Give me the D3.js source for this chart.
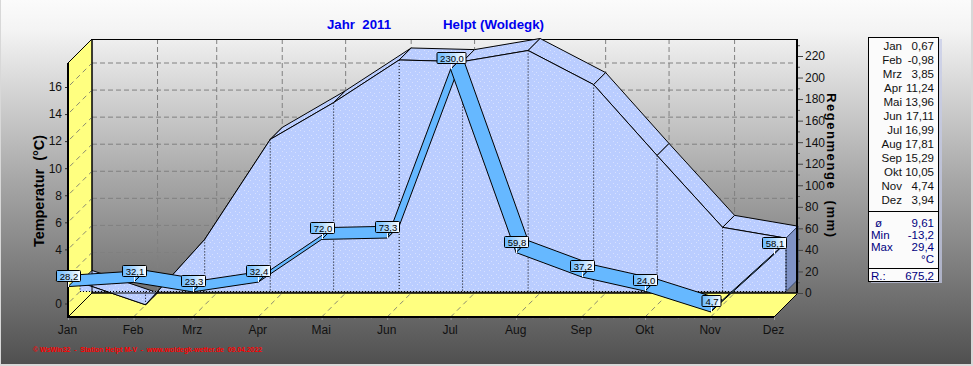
<!DOCTYPE html>
<html lang="de">
<head>
  <meta charset="UTF-8">
  <script src="https://d3js.org/d3.v7.min.js"></script>
  <title>Helpt 2011</title>
  <style>
    html, body { margin: 0; padding: 0; background: #d8d8d8; overflow: hidden; }
    svg { display: block; font-family: "Liberation Sans", Arial, sans-serif; }
    .axis path { display: none; }
    .axis text { font-family: "Liberation Sans", Arial, sans-serif; font-size: 12px; fill: #111; }
  </style>
</head>
<body>
  <script>
    const months = ["Jan", "Feb", "Mrz", "Apr", "Mai", "Jun", "Jul", "Aug", "Sep", "Okt", "Nov", "Dez"];
    const tempValues = [0.67, -0.98, 3.85, 11.24, 13.96, 17.11, 16.99, 17.81, 15.29, 10.05, 4.74, 3.94];
    const rainValues = [28.2, 32.1, 23.3, 32.4, 72.0, 73.3, 230.0, 59.8, 37.2, 24.0, 4.7, 58.1];
    const tempTicks = [0, 2, 4, 6, 8, 10, 12, 14, 16];
    const rainTicks = [0, 20, 40, 60, 80, 100, 120, 140, 160, 180, 200, 220];
    const summaryLabels = ["ø", "Min", "Max"];
    const summaryValues = ["9,61", "-13,2", "29,4"];
    const rainTotal = "675,2";

    const width = 973, height = 366;
    const depth = 24;       // full depth of the 3D box
    const midDepth = 12;    // rain band sits in front half, temperature in back half

    const dates = months.map((m, i) => new Date(Date.UTC(2011, i, 1)));
    const comma = v => v.toFixed(2).replace(".", ",");
    const comma1 = v => v.toFixed(1).replace(".", ",");

    const x = d3.scaleUtc().domain([dates[0], dates[11]]).range([68, 774]);
    const yTemp = d3.scaleLinear().domain([0, 16]).range([303.5, 87]);
    const yRain = d3.scaleLinear().domain([0, 220]).range([317, 80]);

    const leftX = x.range()[0], rightX = x.range()[1];
    const floorY = yRain(0), topY = 63;

    const svg = d3.select("body").append("svg").attr("width", width).attr("height", height);
    const defs = svg.append("defs");

    /* Gradients and pattern */
    const bg = defs.append("linearGradient").attr("id", "bg").attr("x1", 0).attr("y1", 0).attr("x2", 0).attr("y2", 1);
    [[0, "#fbfbfb"], [0.08, "#f4f4f4"], [0.5, "#a6a6a6"], [1, "#505050"]].forEach(s =>
      bg.append("stop").attr("offset", s[0]).attr("stop-color", s[1]));

    const labelFill = defs.append("linearGradient").attr("id", "labelFill");
    labelFill.append("stop").attr("offset", 0).attr("stop-color", "#66b8ff");
    labelFill.append("stop").attr("offset", 1).attr("stop-color", "#ffffff");

    const dots = defs.append("pattern").attr("id", "dots").attr("width", 9).attr("height", 7)
      .attr("patternUnits", "userSpaceOnUse");
    dots.append("rect").attr("width", 9).attr("height", 7).attr("fill", "#bacdff");
    [[1, 1], [5, 2], [3, 4], [7, 5]].forEach(p =>
      dots.append("rect").attr("x", p[0]).attr("y", p[1]).attr("width", 1).attr("height", 1).attr("fill", "#d6e0ff"));

    /* Background */
    svg.append("rect").attr("x", 1).attr("y", 0).attr("width", 970).attr("height", 364).attr("fill", "url(#bg)");

    /* Titles */
    const title = (txt, px, len) => svg.append("text").attr("x", px).attr("y", 29)
      .attr("textLength", len).attr("lengthAdjust", "spacingAndGlyphs")
      .style("white-space", "pre").attr("font-size", 13).attr("font-weight", "bold").attr("fill", "#0000ee").text(txt);
    title("Jahr  2011", 327, 64);
    title("Helpt (Woldegk)", 443, 101);

    /* Back wall grid */
    const grid = svg.append("g").attr("stroke", "#808080").attr("stroke-dasharray", "5,3").attr("fill", "none");
    tempTicks.filter(d => d > 0).forEach(d => {
      grid.append("line").attr("x1", leftX + depth).attr("x2", rightX + depth)
        .attr("y1", yTemp(d) - depth).attr("y2", yTemp(d) - depth);
    });
    dates.slice(1, 11).forEach(d => {
      grid.append("line").attr("x1", x(d) + depth).attr("x2", x(d) + depth)
        .attr("y1", topY - depth).attr("y2", floorY - depth);
    });

    /* Yellow left wall and floor */
    const poly = (g, pts) => g.append("path").attr("d", d3.line()(pts) + "Z");
    const walls = svg.append("g").attr("fill", "#ffff80").attr("stroke", "#000");
    poly(walls, [[leftX, topY], [leftX + depth, topY - depth], [leftX + depth, floorY - depth], [leftX, floorY]]);
    poly(walls, [[leftX, floorY], [rightX, floorY], [rightX + depth, floorY - depth], [leftX + depth, floorY - depth]]);

    const wallDash = svg.append("g").attr("stroke", "#8a8a70").attr("stroke-dasharray", "5,4");
    tempTicks.forEach(d => {
      wallDash.append("line").attr("x1", leftX + 2).attr("y1", yTemp(d) - 2)
        .attr("x2", leftX + depth).attr("y2", yTemp(d) - depth);
    });
    dates.slice(1, 11).forEach(d => {
      wallDash.append("line").attr("x1", x(d)).attr("y1", floorY)
        .attr("x2", x(d) + depth).attr("y2", floorY - depth);
    });

    /* Box frame */
    const boxFrame = svg.append("g").attr("stroke", "#000").attr("fill", "none");
    boxFrame.append("line").attr("x1", leftX + depth).attr("x2", rightX + depth).attr("y1", topY - depth + 0.5).attr("y2", topY - depth + 0.5);
    boxFrame.append("line").attr("x1", leftX).attr("x2", leftX + depth).attr("y1", floorY).attr("y2", floorY - depth);

    /* Axes */
    const leftAxis = svg.append("g").attr("class", "axis").attr("transform", `translate(${leftX},0)`)
      .call(d3.axisLeft(yTemp).tickValues(tempTicks).tickSize(3).tickPadding(3).tickFormat(d3.format("d")));
    leftAxis.selectAll("line").attr("stroke", "#333");

    const rainAxis = svg.append("g").attr("class", "axis").attr("transform", `translate(${rightX + depth - 1},${-depth})`)
      .call(d3.axisRight(yRain).tickValues(rainTicks).tickSize(6).tickPadding(2).tickFormat(d3.format("d")));
    rainAxis.selectAll("line").attr("stroke", "#444");
    const rainMinor = d3.range(10, 240, 20);
    svg.append("g").attr("transform", `translate(${rightX + depth - 1},${-depth})`)
      .call(d3.axisRight(yRain).tickValues(rainMinor).tickSize(3).tickFormat(""))
      .call(g => g.select("path").remove())
      .selectAll("line").attr("stroke", "#555");

    const monthMinor = [];
    dates.slice(0, 11).forEach((d, i) => {
      [0.25, 0.5, 0.75].forEach(f => monthMinor.push(new Date(+d + (dates[i + 1] - d) * f)));
    });
    svg.append("g").attr("transform", `translate(0,${floorY})`)
      .call(d3.axisBottom(x).tickValues(monthMinor).tickSize(2).tickFormat(""))
      .call(g => g.select("path").remove())
      .selectAll("line").attr("stroke", "#777");
    const bottomAxis = svg.append("g").attr("class", "axis").attr("transform", `translate(0,${floorY})`)
      .call(d3.axisBottom(x).tickValues(dates).tickSize(3).tickPadding(5).tickFormat((d, i) => months[i]));
    bottomAxis.selectAll("line").attr("stroke", "#999");
    bottomAxis.selectAll("text").attr("dx", -1);

    /* Temperature area: top surface */
    const topFace = svg.append("g").attr("fill", "url(#dots)").attr("stroke", "#000");
    tempValues.slice(0, 11).forEach((v, i) => {
      const x0 = x(dates[i]) + midDepth, x1 = x(dates[i + 1]) + midDepth;
      const y0 = yTemp(v) - midDepth, y1 = yTemp(tempValues[i + 1]) - midDepth;
      const off = depth - midDepth;
      poly(topFace, [[x0, y0], [x1, y1], [x1 + off, y1 - off], [x0 + off, y0 - off]]);
    });

    /* Temperature area: front face */
    const baseY = yTemp(0) - midDepth;
    const frontArea = d3.area()
      .x((d, i) => x(dates[i]) + midDepth)
      .y0(baseY)
      .y1(d => yTemp(d) - midDepth);
    svg.append("path").datum(tempValues).attr("d", frontArea).attr("fill", "url(#dots)");
    svg.append("path").datum(tempValues).attr("fill", "none").attr("stroke", "#000")
      .attr("d", d3.line().x((d, i) => x(dates[i]) + midDepth).y(d => yTemp(d) - midDepth));

    /* Temperature area: right side */
    const lastX = x(dates[11]) + midDepth, lastY = yTemp(tempValues[11]) - midDepth;
    poly(svg.append("g").attr("fill", "#7f92c6").attr("stroke", "#3a4a70"), [[lastX, lastY], [lastX + 12, lastY - 12], [lastX + 12, baseY - 12], [lastX, baseY]]);

    /* Dotted verticals and base line */
    const dotted = svg.append("g").attr("stroke", "#000").attr("stroke-dasharray", "1,2");
    tempValues.forEach((v, i) => {
      dotted.append("line").attr("x1", x(dates[i]) + midDepth).attr("x2", x(dates[i]) + midDepth)
        .attr("y1", yTemp(v) - midDepth).attr("y2", baseY);
    });
    dotted.append("line").attr("x1", leftX + midDepth).attr("x2", rightX + midDepth).attr("y1", baseY).attr("y2", baseY);

    /* Heavy outer lines */
    svg.append("line").attr("x1", leftX).attr("x2", leftX).attr("y1", topY).attr("y2", floorY + 1).attr("stroke", "#000").attr("stroke-width", 2);
    svg.append("line").attr("x1", leftX).attr("x2", rightX).attr("y1", floorY).attr("y2", floorY).attr("stroke", "#000").attr("stroke-width", 2);
    svg.append("line").attr("x1", rightX + depth - 1).attr("x2", rightX + depth - 1).attr("y1", topY - depth).attr("y2", floorY - depth).attr("stroke", "#000").attr("stroke-width", 2);
    svg.append("line").attr("x1", leftX + depth).attr("x2", rightX + depth - 1).attr("y1", floorY - depth).attr("y2", floorY - depth).attr("stroke", "#000");
    svg.append("line").attr("x1", leftX + depth).attr("x2", leftX + depth).attr("y1", topY - depth).attr("y2", floorY - depth).attr("stroke", "#000");

    /* Rain band */
    const band = svg.append("g").attr("fill", "#66b8ff").attr("stroke", "#000");
    rainValues.slice(0, 11).forEach((v, i) => {
      const x0 = x(dates[i]), x1 = x(dates[i + 1]);
      const y0 = yRain(v), y1 = yRain(rainValues[i + 1]);
      poly(band, [[x0, y0], [x1, y1], [x1 + midDepth, y1 - midDepth], [x0 + midDepth, y0 - midDepth]]);
    });

    /* Rain value labels */
    const labelWidth = d => comma1(d).length * 5 + 4;
    const labels = svg.append("g").selectAll("g").data(rainValues).join("g")
      .attr("transform", (d, i) => `translate(${Math.round(x(dates[i]))},${Math.round(yRain(d))})`);
    labels.append("line").attr("x1", 0.5).attr("x2", 0.5).attr("y1", -6).attr("y2", 0).attr("stroke", "#fff");
    labels.append("rect")
      .attr("x", d => -labelWidth(d) / 2 + 0.5).attr("y", -16.5)
      .attr("width", labelWidth).attr("height", 11).attr("rx", 1)
      .attr("fill", "url(#labelFill)").attr("stroke", "#000");
    labels.append("text").attr("x", 1).attr("y", -7.5).attr("text-anchor", "middle")
      .attr("font-size", 9.5).attr("fill", "#000").text(comma1);

    /* Axis titles */
    svg.append("text").attr("transform", "translate(44,247) rotate(-90)")
      .attr("textLength", 112).attr("lengthAdjust", "spacingAndGlyphs").style("white-space", "pre")
      .attr("font-size", 14).attr("font-weight", "bold").attr("fill", "#000").text("Temperatur  (°C)");
    svg.append("text").attr("transform", "translate(827,93) rotate(90)")
      .attr("textLength", 144).attr("lengthAdjust", "spacing").style("white-space", "pre")
      .attr("font-size", 13).attr("font-weight", "bold").attr("fill", "#000").text("Regenmenge  (mm)");

    /* Monthly table on the right */
    svg.append("rect").attr("x", 871).attr("y", 39).attr("width", 71).attr("height", 244).attr("fill", "#c4cbe8").attr("opacity", 0.7);
    svg.append("rect").attr("x", 868.5).attr("y", 37.5).attr("width", 70).attr("height", 244).attr("fill", "#fbfbfb").attr("stroke", "#000");
    [211.5, 268.5].forEach(py => svg.append("line").attr("x1", 869).attr("x2", 938).attr("y1", py).attr("y2", py).attr("stroke", "#000"));

    const table = svg.append("g").attr("font-size", 11.5);
    months.forEach((m, i) => {
      const py = 50 + i * 14;
      table.append("text").attr("x", 902).attr("y", py).attr("text-anchor", "end").attr("fill", "#111").text(m);
      table.append("text").attr("x", 934).attr("y", py).attr("text-anchor", "end").attr("fill", "#111").text(comma(tempValues[i]));
    });
    const summary = svg.append("g").attr("font-size", 11.5).attr("fill", "#000080");
    summaryLabels.forEach((s, i) => {
      const py = 227 + i * 12;
      summary.append("text").attr("x", i === 0 ? 875 : 871).attr("y", py).text(s);
      summary.append("text").attr("x", 934).attr("y", py).attr("text-anchor", "end").text(summaryValues[i]);
    });
    summary.append("text").attr("x", 934).attr("y", 263).attr("text-anchor", "end").text("°C");
    summary.append("text").attr("x", 871).attr("y", 280).text("R.:");
    summary.append("text").attr("x", 934).attr("y", 280).attr("text-anchor", "end").text(rainTotal);

    /* Footer */
    svg.append("text").attr("x", 33).attr("y", 352).attr("textLength", 229).attr("lengthAdjust", "spacingAndGlyphs")
      .style("white-space", "pre").attr("font-size", 8).attr("font-weight", "bold").attr("fill", "#ff0000")
      .text("© WsWin32  -  Station Helpt M-V  -  www.woldegk-wetter.de  09.04.2022");
  </script>
</body>
</html>
